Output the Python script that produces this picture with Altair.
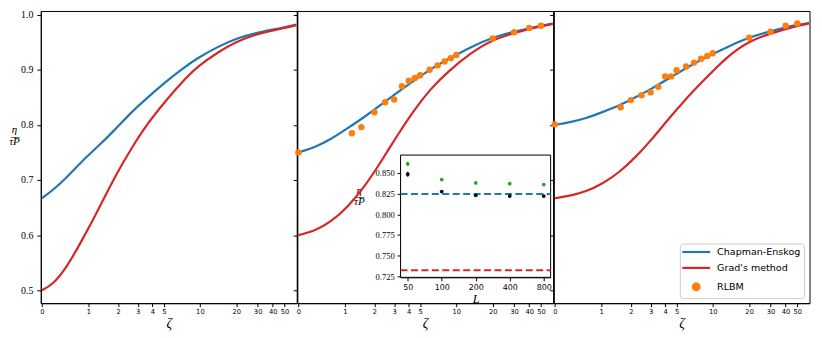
import numpy as np
import pandas as pd
import altair as alt

# ---------------- data ----------------
SERIES = ["Chapman-Enskog", "Grad's method", "RLBM"]

P1_Z = [0, 0.2, 0.47, 0.84, 1.3, 1.89, 2.66, 3.71, 5.11, 7.03, 9.65, 14.1, 20, 30, 50, 62.5]
P1_CE = [0.667, 0.681, 0.703, 0.735, 0.762, 0.792, 0.824, 0.851, 0.877, 0.901, 0.922, 0.942, 0.957, 0.968, 0.977, 0.982]
P1_GR = [0.500, 0.510, 0.539, 0.591, 0.648, 0.708, 0.759, 0.805, 0.842, 0.877, 0.907, 0.932, 0.951, 0.966, 0.976, 0.981]

P2_Z = [0, 0.31, 0.66, 1.08, 1.6, 2.28, 3.19, 4.41, 6.08, 8.35, 13, 20, 30, 50, 62.5]
P2_CE = [0.750, 0.759, 0.774, 0.794, 0.814, 0.836, 0.859, 0.880, 0.901, 0.918, 0.941, 0.959, 0.969, 0.980, 0.984]
P2_GR = [0.600, 0.607, 0.624, 0.651, 0.687, 0.732, 0.781, 0.826, 0.865, 0.895, 0.930, 0.955, 0.967, 0.979, 0.983]
P2_RZ = [0, 1.2, 1.5, 2, 2.5, 3, 3.5, 4, 4.5, 5, 6, 7, 8, 9, 10, 20, 30, 40, 50]
P2_RV = [0.750, 0.785, 0.796, 0.823, 0.841, 0.846, 0.870, 0.880, 0.885, 0.890, 0.900, 0.908, 0.915, 0.921,
         0.927, 0.957, 0.968, 0.976, 0.980]

P3_Z = [0, 0.28, 0.63, 1.03, 1.56, 2.2, 3.09, 4.28, 5.9, 8.09, 13.4, 20, 30, 50, 62.5]
P3_CE = [0.800, 0.8045, 0.812, 0.823, 0.835, 0.850, 0.866, 0.884, 0.902, 0.919, 0.942, 0.959, 0.970, 0.982, 0.985]
P3_GR = [0.667, 0.671, 0.679, 0.693, 0.714, 0.741, 0.774, 0.811, 0.846, 0.877, 0.926, 0.952, 0.966, 0.980, 0.984]
P3_RZ = [0, 1.6, 2, 2.5, 3, 3.5, 4, 4.5, 5, 6, 7, 8, 9, 10, 20, 30, 40, 50]
P3_RV = [0.801, 0.832, 0.845, 0.854, 0.859, 0.869, 0.888, 0.888, 0.899, 0.906, 0.913, 0.920, 0.925, 0.930,
         0.958, 0.969, 0.980, 0.984]

# inset
IN_L = [50, 100, 200, 400, 800]
IN_GREEN = [0.861, 0.842, 0.838, 0.837, 0.836]
IN_GREEN_ERR = [0.0025, 0.001, 0.001, 0.001, 0.001]
IN_BLACK = [0.8485, 0.8275, 0.823, 0.822, 0.822]
IN_BLACK_ERR = [0.003, 0.0015, 0.001, 0.001, 0.001]
IN_CE = 0.8245
IN_GRAD = 0.7325

XTICKS = [0, 1, 2, 3, 4, 5, 10, 20, 30, 40, 50]
YTICKS = [0.5, 0.6, 0.7, 0.8, 0.9, 1.0]
IN_YTICKS = [0.725, 0.75, 0.775, 0.8, 0.825, 0.85]

# ---------------- style ----------------
BLUE, RED, ORANGE, GREEN = "#1f77b4", "#d62728", "#ff7f0e", "#2ca02c"
W, H = 257.5, 294
X_DOM = [-0.0226, 4.836]
Y_DOM = [0.4765, 1.0067]
IN_X_DOM = [43.2, 921]
IN_Y_DOM = [0.7238, 0.8716]
IN_X_RANGE = [104, 255]
IN_Y_RANGE = [268, 145]
SERIF = "Liberation Serif"
SANS = "DejaVu Sans"
ASINH = "log(datum.zeta + sqrt(datum.zeta * datum.zeta + 1))"
FRAC = ["η", "τ\u0305P\u0305"]

xtick_pos = [float(np.arcsinh(v)) for v in XTICKS]


def x_axis():
    return alt.Axis(values=xtick_pos,
                    labelExpr="format(round((exp(datum.value) - exp(-datum.value)) / 2), 'd')",
                    title="ζ", titleFont=SERIF, titleFontSize=14, titleFontStyle="italic",
                    titleFontWeight="normal", titlePadding=1,
                    labelFont=SANS, labelFontSize=6.8, labelPadding=2, tickSize=3.5,
                    grid=False)


def y_axis(show):
    if show:
        return alt.Axis(values=YTICKS, format=".1f", labelFont=SERIF, labelFontSize=10,
                        labelPadding=4, tickSize=4, grid=False,
                        title=FRAC, titleAngle=0, titleAlign="center", titleBaseline="middle",
                        titleX=-27, titleY=119, titleLineHeight=12, titleFont=SERIF,
                        titleFontSize=11, titleFontStyle="italic", titleFontWeight="normal")
    return alt.Axis(values=YTICKS, labels=False, tickSize=4, grid=False, title=None)


def panel(z, ce, gr, rz=None, rv=None, show_y=False, legend=False, inset=None):
    n = len(z)
    curves = pd.DataFrame({"zeta": z * 2, "value": ce + gr,
                           "series": [SERIES[0]] * n + [SERIES[1]] * n})
    if legend:
        leg = alt.Legend(
            title=None, orient="bottom-right", offset=5.5,
            fillColor="rgba(255,255,255,0.8)", strokeColor="#cccccc", cornerRadius=3,
            padding=3.5, labelFont=SANS, labelFontSize=9.6, labelColor="black",
            labelOffset=16, rowPadding=6, symbolOffset=8,
            symbolStrokeWidth=2.2, symbolOpacity=1,
            symbolType=alt.ExprRef(expr="datum.value === 'RLBM' ? 'circle' : 'M-4,0L4,0'"),
            symbolSize=alt.ExprRef(expr="datum.value === 'RLBM' ? 45 : 49"),
            symbolFillColor=alt.ExprRef(expr="datum.value === 'RLBM' ? '#ff7f0e' : 'transparent'"),
            symbolStrokeColor=alt.ExprRef(
                expr="datum.value === 'RLBM' ? 'transparent' : (datum.value === 'Chapman-Enskog' ? '#1f77b4' : '#d62728')"),
        )
    else:
        leg = None
    color = alt.Color("series:N", scale=alt.Scale(domain=SERIES, range=[BLUE, RED, ORANGE]), legend=leg)
    xenc = alt.X("u:Q", scale=alt.Scale(domain=X_DOM, nice=False, zero=False), axis=x_axis())
    yenc = alt.Y("value:Q", scale=alt.Scale(domain=Y_DOM, nice=False, zero=False), axis=y_axis(show_y))

    lines = alt.Chart(curves).transform_calculate(u=ASINH).mark_line(
        strokeWidth=2.2, interpolate="basis").encode(x=xenc, y=yenc, color=color)
    layers = [lines]
    if rz is not None:
        pts = pd.DataFrame({"zeta": rz, "value": rv, "series": ["RLBM"] * len(rz)})
        layers.append(alt.Chart(pts).transform_calculate(u=ASINH).mark_circle(
            size=42, opacity=1).encode(x=xenc, y=yenc, color=color))
    main = alt.layer(*layers)
    if inset is not None:
        return alt.layer(main, inset).resolve_scale(x="independent", y="independent").properties(width=W, height=H)
    return main.properties(width=W, height=H)


def make_inset():
    xs = alt.Scale(type="log", domain=IN_X_DOM, range=IN_X_RANGE, nice=False)
    ys = alt.Scale(domain=IN_Y_DOM, range=IN_Y_RANGE, nice=False, zero=False)
    xa = alt.Axis(orient="bottom", offset=-(H - IN_Y_RANGE[0]), values=IN_L, format="d",
                  labelFont=SANS, labelFontSize=8, labelPadding=3, tickSize=3.5, grid=False,
                  title="L", titleFont=SERIF, titleFontSize=12.5, titleFontStyle="italic",
                  titleFontWeight="normal", titlePadding=1)
    ya = alt.Axis(orient="left", offset=-IN_X_RANGE[0], values=IN_YTICKS, format=".3f",
                  labelFont=SERIF, labelFontSize=8.5, labelPadding=3, tickSize=3.5, grid=False,
                  title=FRAC, titleAngle=0, titleAlign="center", titleBaseline="middle",
                  titleX=-42, titleY=181, titleLineHeight=11, titleFont=SERIF,
                  titleFontSize=11, titleFontStyle="italic", titleFontWeight="normal")
    base = alt.Chart(pd.DataFrame({"k": [0]}))
    frame = base.mark_rect(fill="white", stroke="black", strokeWidth=1).encode(
        x=alt.XDatum(IN_X_DOM[0], type="quantitative", scale=xs, axis=xa),
        x2=alt.X2Datum(IN_X_DOM[1]),
        y=alt.YDatum(IN_Y_DOM[0], type="quantitative", scale=ys, axis=ya),
        y2=alt.Y2Datum(IN_Y_DOM[1]))

    def hline(v, c):
        return base.mark_rule(color=c, strokeWidth=2, strokeDash=[7, 3.5]).encode(
            x=alt.XDatum(IN_X_DOM[0], type="quantitative", scale=xs, axis=xa),
            x2=alt.X2Datum(IN_X_DOM[1]),
            y=alt.YDatum(v, type="quantitative", scale=ys, axis=ya))

    def series(vals, errs, c):
        df = pd.DataFrame({"L": IN_L, "v": vals, "e": errs})
        b = alt.Chart(df).transform_calculate(lo="datum.v - datum.e", hi="datum.v + datum.e")
        x = alt.X("L:Q", scale=xs, axis=xa)
        bars = b.mark_rule(color=c, strokeWidth=1.3).encode(
            x=x, y=alt.Y("lo:Q", scale=ys, axis=ya), y2="hi:Q")
        pts = b.mark_circle(color=c, size=14, opacity=1).encode(
            x=x, y=alt.Y("v:Q", scale=ys, axis=ya))
        return [bars, pts]

    return alt.layer(frame, hline(IN_CE, BLUE), hline(IN_GRAD, RED),
                     *series(IN_GREEN, IN_GREEN_ERR, GREEN),
                     *series(IN_BLACK, IN_BLACK_ERR, "black"))


p1 = panel(P1_Z, P1_CE, P1_GR, show_y=True)
p2 = panel(P2_Z, P2_CE, P2_GR, P2_RZ, P2_RV, inset=make_inset())
p3 = panel(P3_Z, P3_CE, P3_GR, P3_RZ, P3_RV, legend=True)

chart = alt.hconcat(p1, p2, p3, spacing=0, bounds="flush").resolve_scale(
    color="independent").resolve_legend(color="independent").properties(
    padding={"left": 0, "top": 0, "right": 0, "bottom": 0}, background="white"
).configure_view(stroke="black", strokeWidth=1).configure_axis(
    domainColor="black", tickColor="black", labelColor="black", titleColor="black",
    domainWidth=1, tickWidth=1)

chart.save("out.html", embed_options={"renderer": "svg", "actions": False})
